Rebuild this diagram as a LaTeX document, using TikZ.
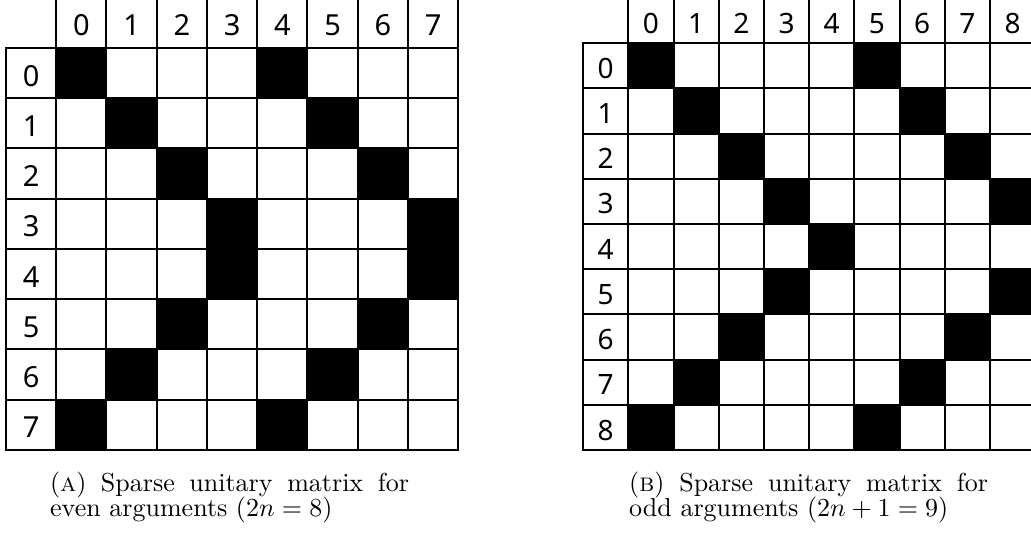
\RequirePackage{fix-cm}
\documentclass[tikz,border=0pt]{standalone}
\usepackage{fontspec}
\usepackage{graphicx}
\newfontfamily\digitfont{Noto Sans}
\newcommand{\capline}[1]{\scalebox{2.6}{\fontsize{10}{12}\selectfont #1}}
\begin{document}
\begin{tikzpicture}[x=1pt,y=-1pt,
  lcell/.style={draw=black, line width=2pt, minimum width=50.25pt, minimum height=50.25pt, inner sep=0pt, outer sep=0pt},
  rcell/.style={draw=black, line width=2pt, minimum width=45.2pt, minimum height=45.2pt, inner sep=0pt, outer sep=0pt},
  ldig/.style={font=\digitfont\fontsize{29}{29}\selectfont, inner sep=0pt, anchor=base},
  rdig/.style={font=\digitfont\fontsize{28}{28}\selectfont, inner sep=0pt, anchor=base},
  capt/.style={inner sep=0pt, anchor=base west}]
\useasboundingbox (0,0) rectangle (1031,534);
\fill[white] (0,0) rectangle (1031,534);
% ---------- left matrix (8x8) ----------
\def\ls{50.25}
\foreach \i in {0,...,7}{
  \foreach \j in {0,...,7}{
    \pgfmathtruncatemacro{\kk}{min(\i,7-\i)}
    \pgfmathtruncatemacro{\isblk}{((\j==\kk)||(\j==\kk+4))?1:0}
    \ifnum\isblk=1 \def\fc{black}\else\def\fc{white}\fi
    \node[lcell, fill=\fc] (L-\i-\j) at ({56.2+\ls*(\j+0.5)},{47.8+\ls*(\i+0.5)}) {};
  }
}
\foreach \j in {0,...,7}{
  \node[lcell, fill=white] (LH-\j) at ({56.2+\ls*(\j+0.5)},{-2.45+\ls/2}) {};
  \node[ldig] (LHt-\j) at ({56.2+\ls*(\j+0.5)},{-2.45+\ls/2+13.3}) {\j};
  \node[lcell, fill=white] (LR-\j) at ({5.95+\ls/2},{47.8+\ls*(\j+0.5)}) {};
  \node[ldig] (LRt-\j) at ({5.95+\ls/2},{47.8+\ls*(\j+0.5)+13.3}) {\j};
}
% ---------- right matrix (9x9) ----------
\def\rs{45.2}
\foreach \i in {0,...,8}{
  \foreach \j in {0,...,8}{
    \pgfmathtruncatemacro{\kk}{min(\i,8-\i)}
    \pgfmathtruncatemacro{\isblk}{((\j==\kk)||(\j==\kk+5))?1:0}
    \ifnum\isblk=1 \def\fc{black}\else\def\fc{white}\fi
    \node[rcell, fill=\fc] (R-\i-\j) at ({628.3+\rs*(\j+0.5)},{43.3+\rs*(\i+0.5)}) {};
  }
}
\foreach \j in {0,...,8}{
  \node[rcell, fill=white] (RH-\j) at ({628.3+\rs*(\j+0.5)},{-1.9+\rs/2}) {};
  \node[rdig] (RHt-\j) at ({628.3+\rs*(\j+0.5)},{-1.9+\rs/2+12.5}) {\j};
  \node[rcell, fill=white] (RR-\j) at ({583.1+\rs/2},{43.3+\rs*(\j+0.5)}) {};
  \node[rdig] (RRt-\j) at ({583.1+\rs/2},{43.3+\rs*(\j+0.5)+12.5}) {\j};
}
% ---------- captions ----------
\node[capt] (capA1) at (50,491) {\capline{\makebox[138pt][s]{(\textsc{a}) Sparse unitary matrix for}}};
\node[capt] (capA2) at (50,516.5) {\capline{even arguments $(2n = 8)$}};
\node[capt] (capB1) at (629,491) {\capline{\makebox[138pt][s]{(\textsc{b}) Sparse unitary matrix for}}};
\node[capt] (capB2) at (629,516.5) {\capline{odd arguments $(2n + 1 = 9)$}};
\end{tikzpicture}
\end{document}
